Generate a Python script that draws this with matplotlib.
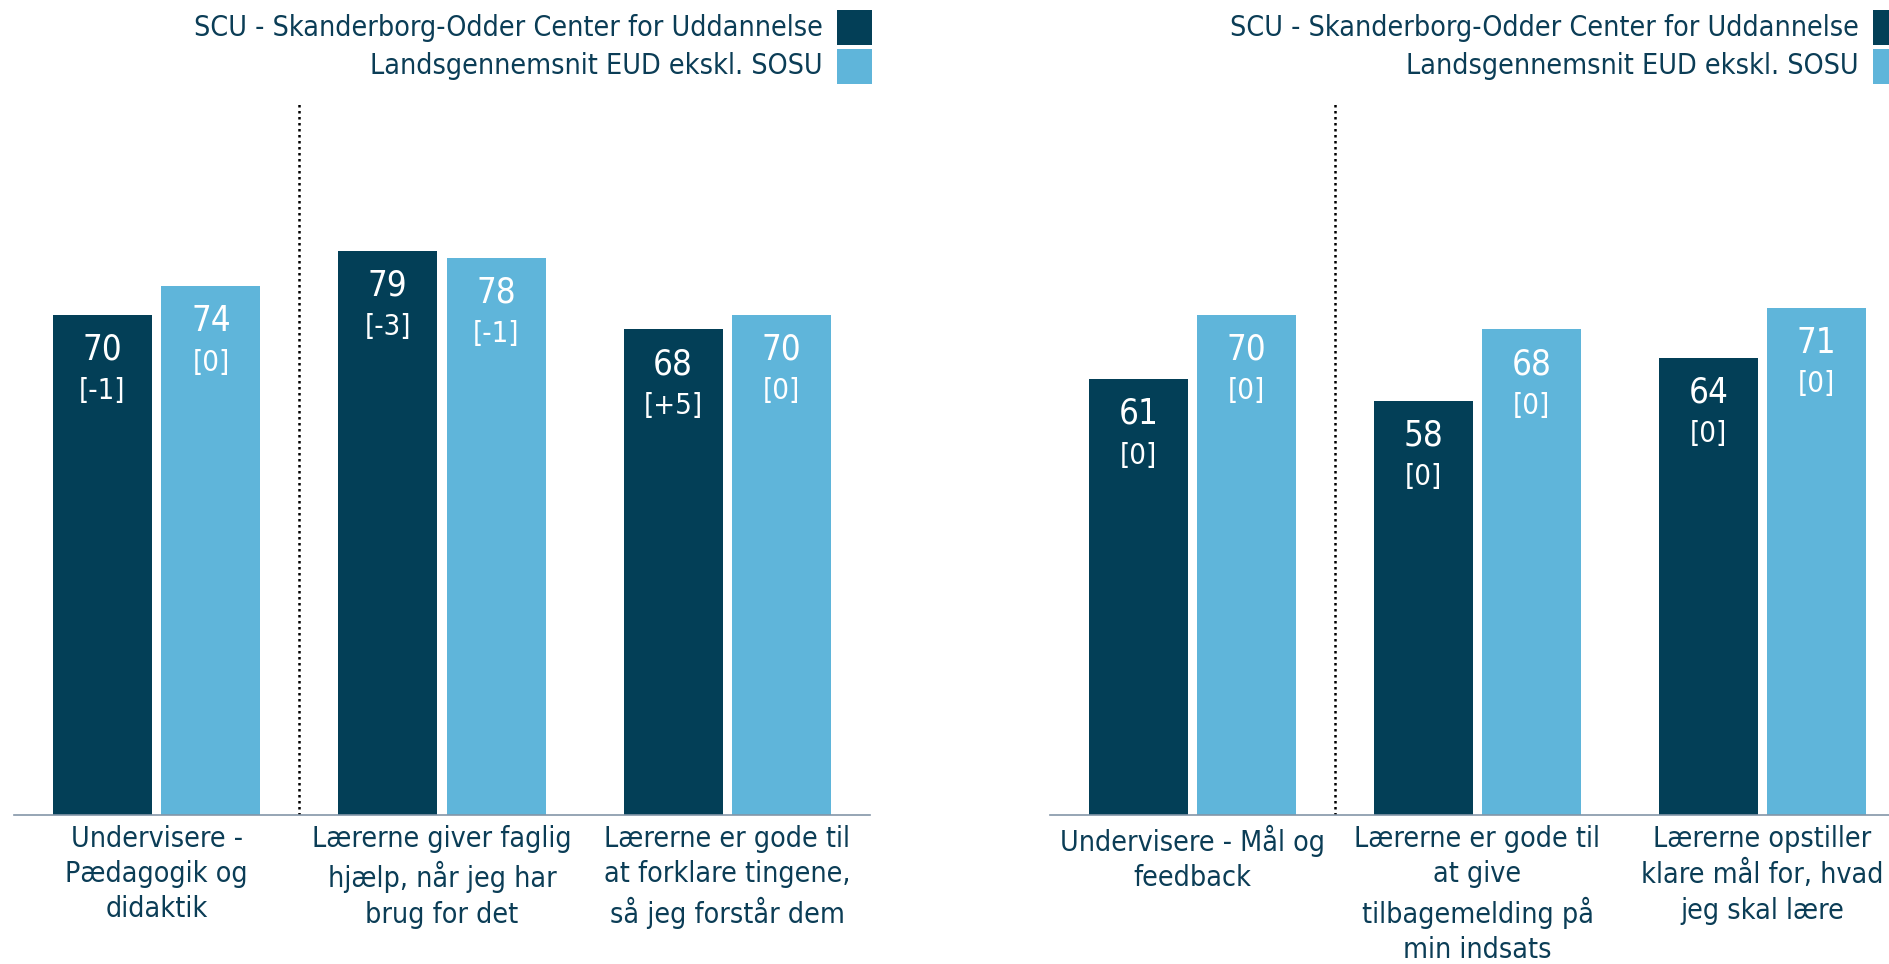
import matplotlib
matplotlib.use("Agg")
import matplotlib.pyplot as plt
from matplotlib import font_manager
from matplotlib.patches import Rectangle
import numpy as np

# ---------------- data ----------------
legend_labels = ["SCU - Skanderborg-Odder Center for Uddannelse",
                 "Landsgennemsnit EUD ekskl. SOSU"]

left_categories = ["Undervisere -\nPædagogik og\ndidaktik",
                   "Lærerne giver faglig\nhjælp, når jeg har\nbrug for det",
                   "Lærerne er gode til\nat forklare tingene,\nså jeg forstår dem"]
left_scu = [70, 79, 68]
left_scu_change = ["[-1]", "[-3]", "[+5]"]
left_land = [74, 78, 70]
left_land_change = ["[0]", "[-1]", "[0]"]

right_categories = ["Undervisere - Mål og\nfeedback",
                    "Lærerne er gode til\nat give\ntilbagemelding på\nmin indsats",
                    "Lærerne opstiller\nklare mål for, hvad\njeg skal lære"]
right_scu = [61, 58, 64]
right_scu_change = ["[0]", "[0]", "[0]"]
right_land = [70, 68, 71]
right_land_change = ["[0]", "[0]", "[0]"]

# ---------------- style ----------------
DARK = "#033F57"
LIGHT = "#5FB5DA"
TEXT = "#0B3D56"
AXIS = "#8496A8"

have_cond = any(f.name == "DejaVu Sans" and f.stretch == "condensed"
                for f in font_manager.fontManager.ttflist)
if have_cond:
    plt.rcParams["font.family"] = ["DejaVu Sans"]
    plt.rcParams["font.stretch"] = "condensed"
else:
    plt.rcParams["font.family"] = ["Liberation Sans", "DejaVu Sans"]

W, H = 1890, 964
fig = plt.figure(figsize=(W / 100, H / 100), dpi=100)

LABEL_FS = 20.5


def legend(text_right_px, square_left_px):
    colors = [DARK, LIGHT]
    tops = [10, 49]
    size = 35
    for lab, col, top in zip(legend_labels, colors, tops):
        fig.patches.append(Rectangle((square_left_px / W, 1 - (top + size) / H),
                                     size / W, size / H, transform=fig.transFigure,
                                     facecolor=col, edgecolor="none", figure=fig))
        fig.text(text_right_px / W, 1 - (top + size / 2) / H, lab, ha="right",
                 va="center", fontsize=LABEL_FS, color=TEXT)


def panel(rect, cats, scu, scu_ch, land, land_ch):
    ax = fig.add_axes(rect)
    x = np.arange(len(cats))
    bw = 0.347
    off = 0.19
    b1 = ax.bar(x - off, scu, width=bw, color=DARK)
    b2 = ax.bar(x + off, land, width=bw, color=LIGHT)
    for bars, vals, chs in ((b1, scu, scu_ch), (b2, land, land_ch)):
        for rect_, v, c in zip(bars, vals, chs):
            cx = rect_.get_x() + rect_.get_width() / 2
            ax.annotate(str(v), (cx, v), xytext=(0, -25), textcoords="offset points",
                        ha="center", va="center", color="white", fontsize=25)
            ax.annotate(c, (cx, v), xytext=(0, -55), textcoords="offset points",
                        ha="center", va="center", color="white", fontsize=21)
    ax.axvline(0.5, ymin=0, ymax=1, color="black", lw=1.8, linestyle=(0, (1, 1.4)))
    ax.set_xlim(-0.5, len(cats) - 0.5)
    ax.set_ylim(0, 100)
    ax.set_xticks(x)
    ax.set_xticklabels(cats, fontsize=LABEL_FS, color=TEXT, linespacing=1.33)
    ax.tick_params(axis="x", length=0, pad=7)
    ax.set_yticks([])
    for s in ("top", "left", "right"):
        ax.spines[s].set_visible(False)
    ax.spines["bottom"].set_color(AXIS)
    ax.spines["bottom"].set_linewidth(1.2)
    return ax


bottom = 1 - 814.8 / H
height = 714 / H
panel([14 / W, bottom, 856 / W, height], left_categories,
      left_scu, left_scu_change, left_land, left_land_change)
panel([1050 / W, bottom, 855 / W, height], right_categories,
      right_scu, right_scu_change, right_land, right_land_change)
legend(823, 837)
legend(1859, 1873)

fig.savefig("out.png", dpi=100)
